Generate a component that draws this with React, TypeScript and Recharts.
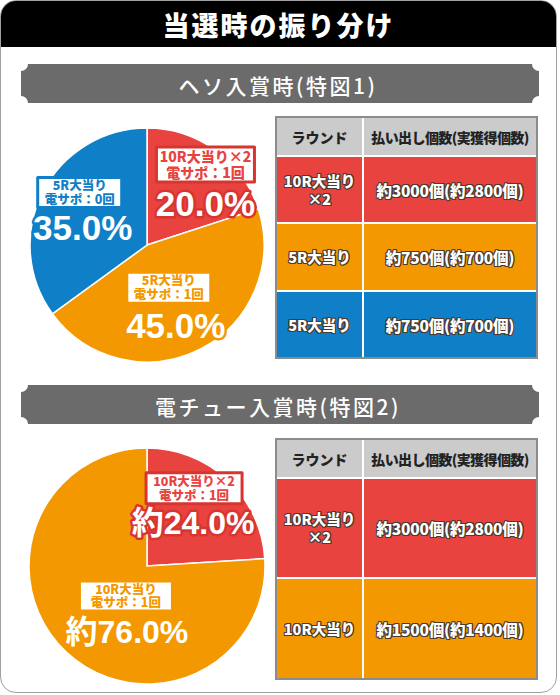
import React from 'react';
import { PieChart, Pie, Cell } from 'recharts';

// ヘソ入賞時(特図1)
const hesoNames = ['10R大当り×2', '5R大当り', '5R大当り'];
const hesoSapo = ['電サポ：1回', '電サポ：1回', '電サポ：0回'];
const hesoShares = [20, 45, 35];
const hesoRounds = [['10R大当り', '×2'], ['5R大当り'], ['5R大当り']];
const hesoPayouts = ['約3000個(約2800個)', '約750個(約700個)', '約750個(約700個)'];

// 電チュー入賞時(特図2)
const denchuNames = ['10R大当り×2', '10R大当り'];
const denchuSapo = ['電サポ：1回', '電サポ：1回'];
const denchuShares = [24, 76];
const denchuRounds = [['10R大当り', '×2'], ['10R大当り']];
const denchuPayouts = ['約3000個(約2800個)', '約1500個(約1400個)'];

const tableHeaders = ['ラウンド', '払い出し個数(実獲得個数)'];

const RED = '#e8433f';
const ORANGE = '#f39800';
const BLUE = '#0f7fc8';
const hesoColors = [RED, ORANGE, BLUE];
const denchuColors = [RED, ORANGE];
const outlineColors: Record<string, string> = { [RED]: '#d83531', [ORANGE]: ORANGE, [BLUE]: BLUE };

const JP = "'Noto Sans CJK JP', 'Noto Sans', sans-serif";
const NUM = "'Liberation Sans', 'Noto Sans CJK JP', sans-serif";

type LabelLayout = { r: number; shift: number; bw: number; bh: number; fs: number; pdx: number; pdy: number };

const hesoLayout: LabelLayout[] = [
  { r: 0.85, shift: 0, bw: 98, bh: 35, fs: 14, pdx: 0, pdy: 39 },
  { r: 0.41, shift: 0, bw: 84, bh: 31, fs: 12.5, pdx: 7, pdy: 38 },
  { r: 0.73, shift: -11, bw: 84, bh: 30, fs: 12.5, pdx: 3, pdy: 35 },
];
const denchuLayout: LabelLayout[] = [
  { r: 0.77, shift: 12, bw: 96, bh: 31, fs: 12.5, pdx: -1, pdy: 35 },
  { r: 0.31, shift: 8, bw: 93, bh: 30, fs: 12.5, pdx: 1, pdy: 36 },
];

function makeLabel(
  names: string[], sapo: string[], shares: number[], colors: string[],
  layout: LabelLayout[], prefix: string, pctSize: number,
) {
  return (props: any) => {
    const { cx, cy, midAngle, outerRadius, index } = props;
    const L = layout[index];
    const a = (-(midAngle + L.shift) * Math.PI) / 180;
    const x = cx + outerRadius * L.r * Math.cos(a);
    const y = cy + outerRadius * L.r * Math.sin(a);
    const c = colors[index];
    const oc = outlineColors[c];
    const half = L.bh / 2;
    const gap = half - 1.5;
    return (
      <g>
        <rect
          x={x - L.bw / 2} y={y - half} width={L.bw} height={L.bh}
          fill="#fff" stroke={oc} strokeWidth={3} strokeLinejoin="round"
        />
        <text textAnchor="middle" fill={c} fontSize={L.fs} fontWeight={900} fontFamily={JP}>
          <tspan x={x} y={y - gap / 2 + L.fs * 0.36}>{names[index]}</tspan>
          <tspan x={x} dy={gap}>{sapo[index]}</tspan>
        </text>
        <text x={x + L.pdx} y={y + L.pdy} textAnchor="middle" dominantBaseline="central"
          fill="#fff" stroke={oc} strokeWidth={5} strokeLinejoin="round"
          style={{ paintOrder: 'stroke' }}
          fontSize={pctSize} fontWeight={700} fontFamily={NUM}>
          {`${prefix}${shares[index].toFixed(1)}%`}
        </text>
      </g>
    );
  };
}

function SharePie({ top, names, sapo, shares, colors, layout, prefix, pctSize, radius }: {
  top: number; names: string[]; sapo: string[]; shares: number[]; colors: string[];
  layout: LabelLayout[]; prefix: string; pctSize: number; radius: number;
}) {
  const data = shares.map((v, i) => ({ name: names[i], value: v }));
  return (
    <div style={{ position: 'absolute', left: 17, top }}>
      <PieChart width={250} height={250}>
        <Pie
          data={data}
          dataKey="value"
          cx={125}
          cy={125}
          outerRadius={radius}
          startAngle={90}
          endAngle={-270}
          stroke="#fff"
          strokeWidth={1.5}
          labelLine={false}
          label={makeLabel(names, sapo, shares, colors, layout, prefix, pctSize)}
          isAnimationActive={false}
        >
          {data.map((_, i) => (
            <Cell key={i} fill={colors[i]} />
          ))}
        </Pie>
      </PieChart>
    </div>
  );
}

function Banner({ top, text }: { top: number; text: string }) {
  const w = 518;
  const h = 39;
  const r = 7;
  const d = `M${r},0 H${w - r} A${r},${r} 0 0 0 ${w},${r} V${h - r} A${r},${r} 0 0 0 ${w - r},${h} H${r} A${r},${r} 0 0 0 0,${h - r} V${r} A${r},${r} 0 0 0 ${r},0 Z`;
  return (
    <svg style={{ position: 'absolute', left: 21, top }} width={w} height={h}>
      <path d={d} fill="#6b6b6b" />
      <text x={w / 2 - 2} y={h / 2 + 1} textAnchor="middle" dominantBaseline="central"
        fill="#fff" fontSize={21} fontWeight={500} letterSpacing={2.5} fontFamily={JP}>
        {text}
      </text>
    </svg>
  );
}

const outline = '1px 0 0 #4a3a30, -1px 0 0 #4a3a30, 0 1px 0 #4a3a30, 0 -1px 0 #4a3a30, 1px 1px 0 #4a3a30, -1px -1px 0 #4a3a30, 1px -1px 0 #4a3a30, -1px 1px 0 #4a3a30';

function PayoutTable({ top, rounds, payouts, colors, rowHeights }: {
  top: number; rounds: string[][]; payouts: string[]; colors: string[]; rowHeights: number[];
}) {
  const cell: React.CSSProperties = {
    display: 'flex', alignItems: 'center', justifyContent: 'center', textAlign: 'center',
  };
  return (
    <div style={{
      position: 'absolute', left: 275, top, width: 263, boxSizing: 'border-box',
      border: '2px solid #8c8c8c', background: '#fff', fontFamily: JP, fontWeight: 900,
    }}>
      <div style={{ display: 'flex', height: 37, background: '#cbcbcb', color: '#222', fontSize: 14 }}>
        <div style={{ ...cell, width: 85, borderRight: '2px solid #fff' }}>{tableHeaders[0]}</div>
        <div style={{ ...cell, flex: 1, letterSpacing: -0.6 }}>{tableHeaders[1]}</div>
      </div>
      {payouts.map((p, i) => (
        <div key={i} style={{
          display: 'flex', height: rowHeights[i], background: colors[i], borderTop: '2px solid #fff',
          boxSizing: 'border-box', color: '#fff', textShadow: outline,
        }}>
          <div style={{ ...cell, width: 85, borderRight: '2px solid #fff', flexDirection: 'column', lineHeight: '18px', fontSize: 14.5 }}>
            {rounds[i].map((t, j) => <div key={j}>{t}</div>)}
          </div>
          <div style={{ ...cell, flex: 1, fontSize: 15.5, letterSpacing: -0.2 }}>{p}</div>
        </div>
      ))}
    </div>
  );
}

export default function App() {
  return (
    <div style={{ position: 'absolute', left: 0, top: 0, width: 560, height: 695, background: '#fff', fontFamily: JP }}>
      <div style={{
        position: 'absolute', left: 0, top: 0, width: 557, height: 693, boxSizing: 'border-box',
        border: '1.5px solid #a0a0a0', borderRadius: 16, overflow: 'hidden', background: '#fff',
      }}>
        <div style={{
          height: 46, background: '#000', color: '#fff', fontSize: 27, fontWeight: 900,
          letterSpacing: 2, display: 'flex', alignItems: 'center', justifyContent: 'center',
        }}>
          当選時の振り分け
        </div>
      </div>

      <Banner top={64} text="ヘソ入賞時(特図1)" />
      <SharePie top={115} names={hesoNames} sapo={hesoSapo} shares={hesoShares}
        colors={hesoColors} layout={hesoLayout} prefix="" pctSize={35} radius={117} />
      <PayoutTable top={116} rounds={hesoRounds} payouts={hesoPayouts}
        colors={hesoColors} rowHeights={[67, 68, 67]} />

      <Banner top={385} text="電チュー入賞時(特図2)" />
      <SharePie top={436} names={denchuNames} sapo={denchuSapo} shares={denchuShares}
        colors={denchuColors} layout={denchuLayout} prefix="約" pctSize={32} radius={118} />
      <PayoutTable top={438} rounds={denchuRounds} payouts={denchuPayouts}
        colors={denchuColors} rowHeights={[100, 101]} />
    </div>
  );
}
